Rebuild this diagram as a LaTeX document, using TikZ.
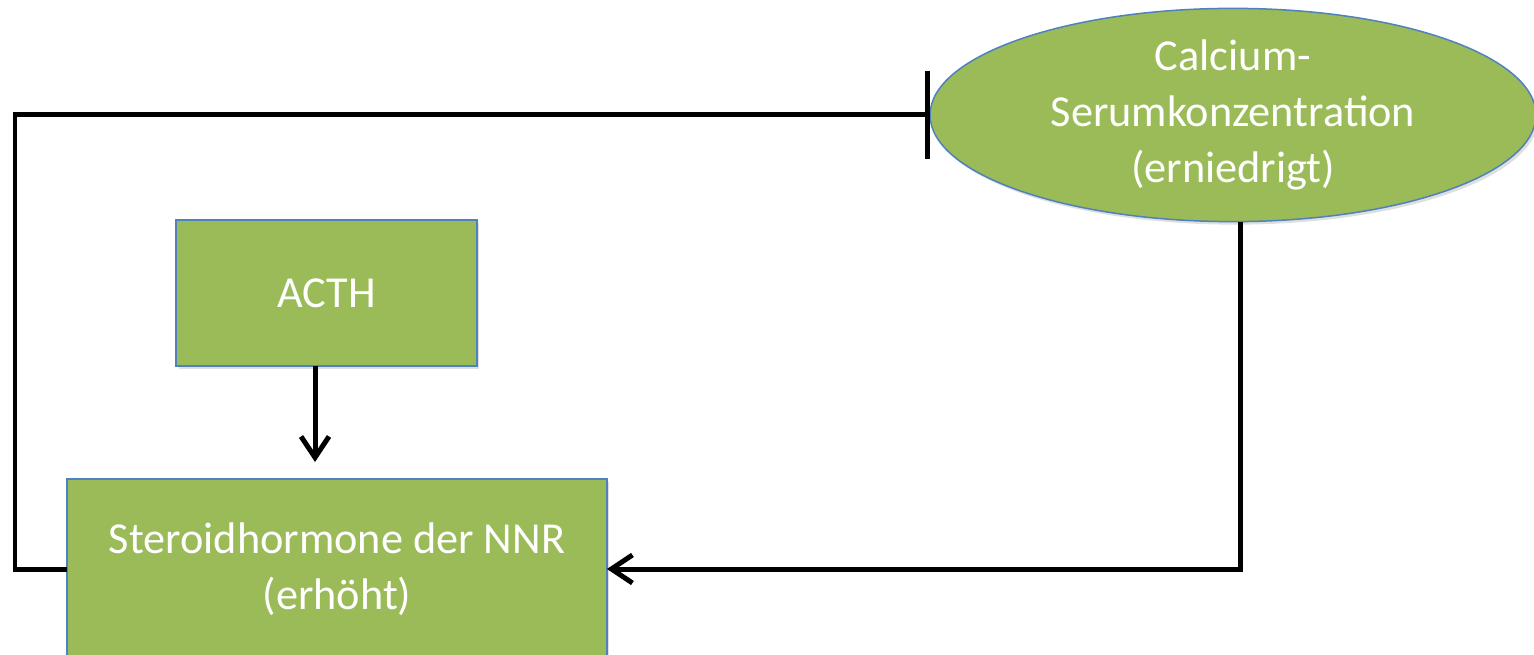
\documentclass[tikz,border=0pt]{standalone}
\usepackage{fontspec}
\setmainfont{Carlito}
\usetikzlibrary{arrows.meta,shadows,shapes.geometric}

\definecolor{boxgreen}{HTML}{9BBB59}
\definecolor{boxblue}{HTML}{4F81BD}

\begin{document}
\begin{tikzpicture}[x=0.02cm, y=-0.02cm,
  every node/.style={fill=boxgreen, draw=boxblue, line width=0.03cm, text=white, align=center,
    font=\fontsize{25.2}{32}\selectfont, outer sep=0pt,
    drop shadow={opacity=0.25, shadow xshift=0.05cm, shadow yshift=-0.06cm}},
  hormbox/.style={rectangle, inner sep=0pt},
  flow/.style={line width=0.1cm, line join=miter, -{Straight Barb[length=0.42cm, width=0.56cm]}},
  hemm/.style={line width=0.1cm, -{Bar[width=1.76cm]}}]
\useasboundingbox (0,0) rectangle (1534,655);
\clip (0,0) rectangle (1534,655);

\node[hormbox, minimum width=6.02cm, minimum height=2.92cm] (acth) at (326.5,293) {ACTH};
\node[hormbox, minimum width=10.8cm, minimum height=3.6cm] (ster) at (337,569) {Steroidhormone der NNR\\(erhöht)};
\node[ellipse, inner sep=0pt, minimum width=12.12cm, minimum height=4.2cm] (calc) at (1233,115) {Calcium-\\Serumkonzentration\\(erniedrigt)};

\coordinate (tip) at (315,462);

\draw[flow] (acth.south -| tip) -- (tip);
\draw[flow] ([xshift=0.14cm]calc.south) |- (ster.east);
\draw[hemm] (ster.west) -| (15,115) -- (calc.west);
\end{tikzpicture}
\end{document}
